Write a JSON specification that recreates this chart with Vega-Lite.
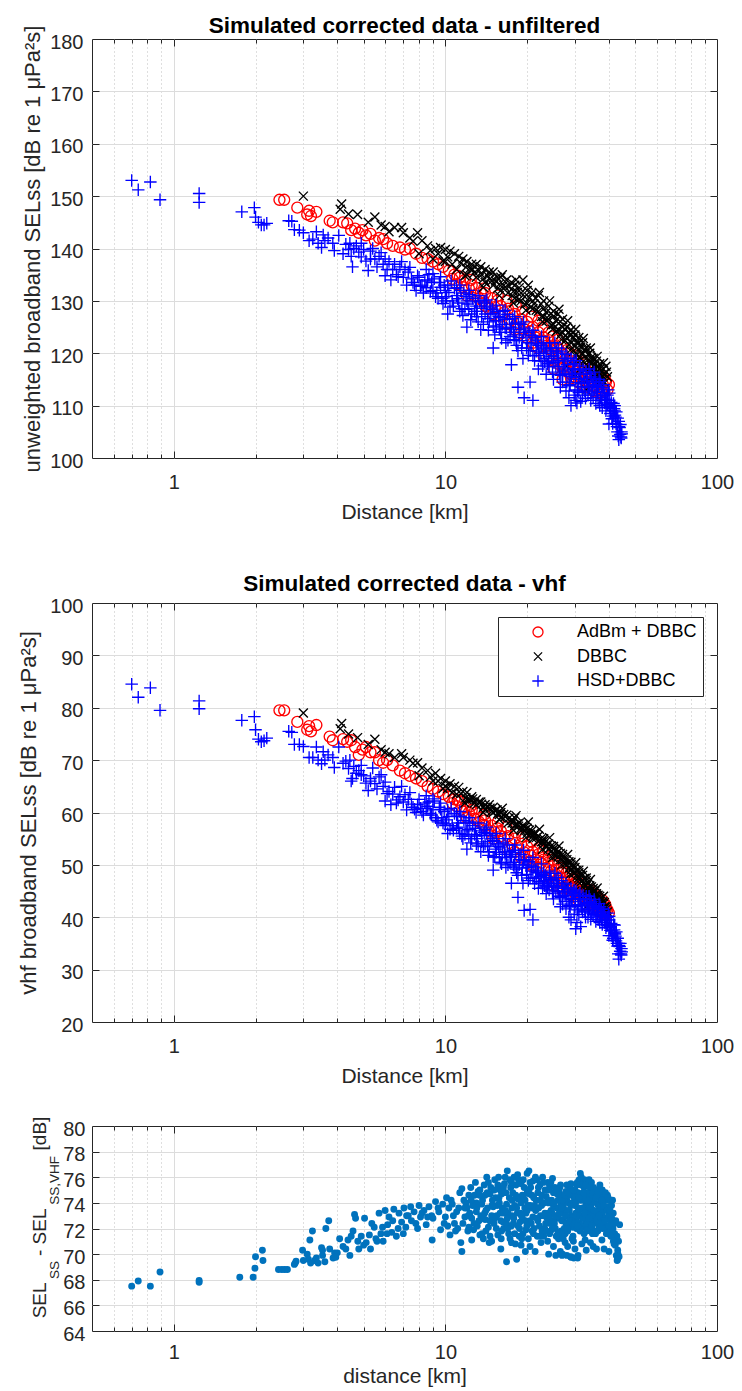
{
"padding":{"left":17,"top":14,"right":0,"bottom":0},
"config":{
 "font":"Liberation Sans",
 "view":{"stroke":"#262626","strokeWidth":1},
 "axis":{"labelFont":"Liberation Sans","titleFont":"Liberation Sans","labelFontSize":20,"labelColor":"#262626","titleColor":"#262626","titleFontWeight":"normal","tickColor":"#262626","tickWidth":1,"gridColor":"#DCDCDC","gridWidth":1,"domain":false,"labelOverlap":false,"labelFlush":false,"labelBound":false,"minExtent":0},
 "title":{"font":"Liberation Sans","fontSize":22.5,"fontWeight":"bold","color":"#000000","anchor":"middle","offset":4},
 "legend":{"labelFont":"Liberation Sans","labelFontSize":18,"labelColor":"#000000","fillColor":"#FFFFFF","strokeColor":"#262626","padding":6,"symbolSize":130,"symbolStrokeWidth":1.3,"symbolOffset":25,"labelOffset":30,"rowPadding":6.5,"cornerRadius":0,"labelLimit":400}
},
"datasets":{
"sel":[
{"s":"AdBm + DBBC","d":2.45,"u":149.3,"v":79.5},{"s":"AdBm + DBBC","d":2.55,"u":149.3,"v":79.5},{"s":"AdBm + DBBC","d":2.85,"u":147.8,"v":77.3},{"s":"AdBm + DBBC","d":3.1,"u":146.5,"v":75.8},{"s":"AdBm + DBBC","d":3.15,"u":147.2,"v":76.5},{"s":"AdBm + DBBC","d":3.2,"u":146.2,"v":75.5},{"s":"AdBm + DBBC","d":3.35,"u":147,"v":76.7},{"s":"AdBm + DBBC","d":3.75,"u":145.3,"v":74.5},{"s":"AdBm + DBBC","d":3.85,"u":145,"v":73.8},{"s":"AdBm + DBBC","d":4.2,"u":145,"v":74},{"s":"AdBm + DBBC","d":4.35,"u":144.8,"v":73.5},{"s":"AdBm + DBBC","d":4.5,"u":143.5,"v":73.8},{"s":"AdBm + DBBC","d":4.65,"u":143.8,"v":72.5},{"s":"AdBm + DBBC","d":4.8,"u":143,"v":71},{"s":"AdBm + DBBC","d":4.95,"u":143.5,"v":72},{"s":"AdBm + DBBC","d":5.1,"u":142.5,"v":72.5},{"s":"AdBm + DBBC","d":5.3,"u":142.8,"v":71.5},{"s":"AdBm + DBBC","d":5.5,"u":141.5,"v":71.5},{"s":"AdBm + DBBC","d":5.7,"u":142,"v":70},{"s":"AdBm + DBBC","d":5.9,"u":141.8,"v":69.5},{"s":"AdBm + DBBC","d":6.1,"u":141,"v":70},{"s":"AdBm + DBBC","d":6.4,"u":140.5,"v":69},{"s":"AdBm + DBBC","d":6.8,"u":140.2,"v":68},{"s":"AdBm + DBBC","d":7.1,"u":139.8,"v":67.5},{"s":"AdBm + DBBC","d":7.4,"u":140,"v":67},{"s":"AdBm + DBBC","d":7.8,"u":139,"v":66.5},{"s":"AdBm + DBBC","d":8.2,"u":138.2,"v":66},{"s":"AdBm + DBBC","d":8.6,"u":138,"v":65},{"s":"AdBm + DBBC","d":9,"u":137.5,"v":64.5},{"s":"AdBm + DBBC","d":9.4,"u":137,"v":64},{"s":"AdBm + DBBC","d":9.8,"u":136.5,"v":63.5},{"s":"AdBm + DBBC","d":10.3,"u":135.8,"v":63},{"s":"AdBm + DBBC","d":10.8,"u":135,"v":62.5},{"s":"AdBm + DBBC","d":11.3,"u":134.5,"v":62},{"s":"AdBm + DBBC","d":11.8,"u":134,"v":61},{"s":"AdBm + DBBC","d":12,"u":131,"v":59},{"s":"AdBm + DBBC","d":12.5,"u":133,"v":60.5},{"s":"AdBm + DBBC","d":13,"u":132.5,"v":60},{"s":"AdBm + DBBC","d":13.5,"u":131.5,"v":59},{"s":"AdBm + DBBC","d":14,"u":131.5,"v":58.5},{"s":"AdBm + DBBC","d":14,"u":129,"v":57.5},{"s":"AdBm + DBBC","d":14.8,"u":130.5,"v":57.5},{"s":"AdBm + DBBC","d":15,"u":127.5,"v":55},{"s":"AdBm + DBBC","d":15.5,"u":130,"v":57},{"s":"AdBm + DBBC","d":16,"u":129,"v":56.5},{"s":"AdBm + DBBC","d":16,"u":127,"v":55.5},{"s":"AdBm + DBBC","d":17,"u":128.5,"v":55.5},{"s":"AdBm + DBBC","d":18,"u":127.5,"v":55},{"s":"AdBm + DBBC","d":18,"u":124.5,"v":52.5},{"s":"AdBm + DBBC","d":19,"u":126.5,"v":54},{"s":"AdBm + DBBC","d":20,"u":126,"v":53.5},{"s":"AdBm + DBBC","d":20,"u":123,"v":51},{"s":"AdBm + DBBC","d":21,"u":125,"v":52.5},{"s":"AdBm + DBBC","d":21,"u":122,"v":50},{"s":"AdBm + DBBC","d":22,"u":124,"v":52},{"s":"AdBm + DBBC","d":22,"u":121,"v":49.5},{"s":"AdBm + DBBC","d":23,"u":123,"v":51},{"s":"AdBm + DBBC","d":24,"u":122.5,"v":50.5},{"s":"AdBm + DBBC","d":24,"u":119.5,"v":48},{"s":"AdBm + DBBC","d":25,"u":121.5,"v":50},{"s":"AdBm + DBBC","d":25,"u":117,"v":46},{"s":"AdBm + DBBC","d":26,"u":121,"v":49},{"s":"AdBm + DBBC","d":26,"u":118,"v":47},{"s":"AdBm + DBBC","d":27,"u":120,"v":48.5},{"s":"AdBm + DBBC","d":27,"u":115,"v":45},{"s":"AdBm + DBBC","d":28,"u":119,"v":47.5},{"s":"AdBm + DBBC","d":28,"u":116.5,"v":45.5},{"s":"AdBm + DBBC","d":29,"u":118.5,"v":47},{"s":"AdBm + DBBC","d":29,"u":116,"v":46},{"s":"AdBm + DBBC","d":30,"u":118,"v":46.5},{"s":"AdBm + DBBC","d":30,"u":115.5,"v":44.5},{"s":"AdBm + DBBC","d":31,"u":117,"v":46},{"s":"AdBm + DBBC","d":32,"u":116.5,"v":45},{"s":"AdBm + DBBC","d":32,"u":114,"v":43.5},{"s":"AdBm + DBBC","d":33,"u":116,"v":44.5},{"s":"AdBm + DBBC","d":34,"u":115.5,"v":44},{"s":"AdBm + DBBC","d":35,"u":115,"v":43.5},{"s":"AdBm + DBBC","d":36,"u":115.5,"v":43},{"s":"AdBm + DBBC","d":37,"u":114.5,"v":42.5},{"s":"AdBm + DBBC","d":38,"u":114,"v":42},{"s":"AdBm + DBBC","d":39,"u":114.5,"v":41.5},{"s":"AdBm + DBBC","d":40,"u":114,"v":40.8},
{"s":"AdBm + DBBC","d":10.6,"u":134.2,"v":61.8},{"s":"AdBm + DBBC","d":11,"u":133.2,"v":61.2},{"s":"AdBm + DBBC","d":11.6,"u":132.6,"v":60.2},{"s":"AdBm + DBBC","d":12.2,"u":132.4,"v":60},{"s":"AdBm + DBBC","d":12.8,"u":131,"v":58.8},{"s":"AdBm + DBBC","d":13.3,"u":130.4,"v":58.2},{"s":"AdBm + DBBC","d":13.8,"u":130,"v":57.6},{"s":"AdBm + DBBC","d":14.4,"u":128.6,"v":56.6},{"s":"AdBm + DBBC","d":15.2,"u":128.8,"v":56.2},{"s":"AdBm + DBBC","d":16.5,"u":127.8,"v":55},{"s":"AdBm + DBBC","d":17.5,"u":126.4,"v":54},{"s":"AdBm + DBBC","d":18.5,"u":125.8,"v":53.2},{"s":"AdBm + DBBC","d":19.5,"u":124.6,"v":52.4},{"s":"AdBm + DBBC","d":20.5,"u":124.2,"v":51.8},{"s":"AdBm + DBBC","d":21.5,"u":123,"v":51},{"s":"AdBm + DBBC","d":22.5,"u":122.4,"v":50.4},{"s":"AdBm + DBBC","d":23.5,"u":121.4,"v":49.4},{"s":"AdBm + DBBC","d":24.5,"u":120.6,"v":48.8},{"s":"AdBm + DBBC","d":25.5,"u":119.8,"v":48.2},{"s":"AdBm + DBBC","d":26.5,"u":119,"v":47.6},{"s":"AdBm + DBBC","d":27.5,"u":117.8,"v":46.8},{"s":"AdBm + DBBC","d":28.5,"u":117.4,"v":46.2},{"s":"AdBm + DBBC","d":29.5,"u":116.8,"v":45.6},{"s":"AdBm + DBBC","d":30.5,"u":116,"v":45},{"s":"AdBm + DBBC","d":31.5,"u":115.4,"v":44.4},{"s":"AdBm + DBBC","d":32.5,"u":114.8,"v":43.8},{"s":"AdBm + DBBC","d":33.5,"u":114.4,"v":43.2},{"s":"AdBm + DBBC","d":34.5,"u":113.8,"v":42.6},{"s":"AdBm + DBBC","d":35.5,"u":113.6,"v":42.2},{"s":"AdBm + DBBC","d":36.5,"u":113.2,"v":41.8},{"s":"AdBm + DBBC","d":37.5,"u":112.8,"v":41.2},{"s":"AdBm + DBBC","d":38.5,"u":112.6,"v":40.8},{"s":"AdBm + DBBC","d":22,"u":126.2,"v":53.2},{"s":"AdBm + DBBC","d":24,"u":124,"v":51.6},{"s":"AdBm + DBBC","d":26,"u":122.6,"v":50.4},{"s":"AdBm + DBBC","d":28,"u":120.6,"v":48.6},{"s":"AdBm + DBBC","d":30,"u":119.6,"v":47.4},{"s":"AdBm + DBBC","d":32,"u":118.2,"v":46.2},{"s":"AdBm + DBBC","d":34,"u":117,"v":45.2},{"s":"AdBm + DBBC","d":36,"u":116.4,"v":44.2},{"s":"AdBm + DBBC","d":38,"u":115.6,"v":43.2},{"s":"AdBm + DBBC","d":39.5,"u":113,"v":41.4},
{"s":"AdBm + DBBC","d":11.1,"u":134.8,"v":62.4},{"s":"AdBm + DBBC","d":12.4,"u":134,"v":61.2},{"s":"AdBm + DBBC","d":13.9,"u":132.4,"v":59.6},{"s":"AdBm + DBBC","d":15.6,"u":131,"v":58.2},{"s":"AdBm + DBBC","d":16.8,"u":130,"v":57.2},{"s":"AdBm + DBBC","d":18.2,"u":129,"v":56.2},{"s":"AdBm + DBBC","d":19.2,"u":128,"v":55.4},{"s":"AdBm + DBBC","d":20.8,"u":127,"v":54.4},{"s":"AdBm + DBBC","d":22.8,"u":125,"v":52.6},{"s":"AdBm + DBBC","d":24.8,"u":123.2,"v":51},{"s":"AdBm + DBBC","d":26.8,"u":121.6,"v":49.4},{"s":"AdBm + DBBC","d":28.8,"u":120,"v":48},{"s":"AdBm + DBBC","d":30.8,"u":118.4,"v":46.6},{"s":"AdBm + DBBC","d":32.8,"u":117,"v":45.4},{"s":"AdBm + DBBC","d":34.8,"u":116,"v":44.4},{"s":"AdBm + DBBC","d":36.8,"u":115,"v":43.4},{"s":"AdBm + DBBC","d":38.8,"u":114.8,"v":42.4},{"s":"AdBm + DBBC","d":17,"u":125.6,"v":53},{"s":"AdBm + DBBC","d":19,"u":123.8,"v":51.4},{"s":"AdBm + DBBC","d":21,"u":121.4,"v":49.6},{"s":"AdBm + DBBC","d":23,"u":119.4,"v":47.8},{"s":"AdBm + DBBC","d":25,"u":118.6,"v":46.6},{"s":"AdBm + DBBC","d":27,"u":117.2,"v":45.6},{"s":"AdBm + DBBC","d":29,"u":115.2,"v":44.2},{"s":"AdBm + DBBC","d":31,"u":114.4,"v":43.2},{"s":"AdBm + DBBC","d":33,"u":113.6,"v":42.4},{"s":"AdBm + DBBC","d":35,"u":112.8,"v":41.6},{"s":"AdBm + DBBC","d":37,"u":112.4,"v":41},
{"s":"DBBC","d":3,"u":150,"v":79},{"s":"DBBC","d":4.1,"u":147.5,"v":76},{"s":"DBBC","d":4.15,"u":148.5,"v":77},{"s":"DBBC","d":4.75,"u":146.5,"v":74.3},{"s":"DBBC","d":5.5,"u":146,"v":74},{"s":"DBBC","d":5.8,"u":144.5,"v":72},{"s":"DBBC","d":6,"u":144.2,"v":71.5},{"s":"DBBC","d":6.5,"u":144,"v":70.5},{"s":"DBBC","d":6.9,"u":144,"v":71.2},{"s":"DBBC","d":7,"u":143,"v":70.5},{"s":"DBBC","d":7.4,"u":142,"v":70},{"s":"DBBC","d":7.9,"u":143,"v":69.5},{"s":"DBBC","d":8,"u":139,"v":67},{"s":"DBBC","d":8.2,"u":141.5,"v":68.5},{"s":"DBBC","d":8.6,"u":140.5,"v":68},{"s":"DBBC","d":9,"u":138,"v":66},{"s":"DBBC","d":9.2,"u":140,"v":67.5},{"s":"DBBC","d":9.6,"u":140.2,"v":66.5},{"s":"DBBC","d":10,"u":139.8,"v":66},{"s":"DBBC","d":10,"u":137.5,"v":65},{"s":"DBBC","d":10.4,"u":139.5,"v":65.5},{"s":"DBBC","d":10.8,"u":139,"v":65},{"s":"DBBC","d":11,"u":136,"v":63.5},{"s":"DBBC","d":11.2,"u":138.5,"v":64.8},{"s":"DBBC","d":11.6,"u":138,"v":64},{"s":"DBBC","d":12,"u":137.5,"v":63.8},{"s":"DBBC","d":12,"u":135,"v":62.5},{"s":"DBBC","d":12.5,"u":137,"v":63},{"s":"DBBC","d":13,"u":137,"v":62.5},{"s":"DBBC","d":13,"u":134.5,"v":61.5},{"s":"DBBC","d":13.5,"u":136.5,"v":62},{"s":"DBBC","d":14,"u":136,"v":61.5},{"s":"DBBC","d":14,"u":133.5,"v":60.5},{"s":"DBBC","d":14.5,"u":135.5,"v":61.5},{"s":"DBBC","d":15,"u":135.5,"v":61},{"s":"DBBC","d":15,"u":133,"v":60},{"s":"DBBC","d":15.5,"u":134.5,"v":60.5},{"s":"DBBC","d":16,"u":134.5,"v":60},{"s":"DBBC","d":16,"u":132,"v":59},{"s":"DBBC","d":16.8,"u":134,"v":59.5},{"s":"DBBC","d":17,"u":131.5,"v":58},{"s":"DBBC","d":17.5,"u":133.5,"v":58.5},{"s":"DBBC","d":18,"u":133,"v":59},{"s":"DBBC","d":18,"u":130.5,"v":57.5},{"s":"DBBC","d":18.7,"u":132.5,"v":58},{"s":"DBBC","d":19,"u":130,"v":56.5},{"s":"DBBC","d":19,"u":131.5,"v":57},{"s":"DBBC","d":19.3,"u":134,"v":57.5},{"s":"DBBC","d":20,"u":132,"v":57},{"s":"DBBC","d":20,"u":129.5,"v":56},{"s":"DBBC","d":20.8,"u":131.5,"v":56.5},{"s":"DBBC","d":21,"u":128.5,"v":55},{"s":"DBBC","d":21,"u":130,"v":55.5},{"s":"DBBC","d":21.5,"u":130.5,"v":56},{"s":"DBBC","d":22,"u":131,"v":55.5},{"s":"DBBC","d":22,"u":128,"v":54.5},{"s":"DBBC","d":23,"u":130,"v":55},{"s":"DBBC","d":23,"u":127,"v":54},{"s":"DBBC","d":23,"u":128.5,"v":54.5},{"s":"DBBC","d":24,"u":129,"v":54},{"s":"DBBC","d":24,"u":126.5,"v":53},{"s":"DBBC","d":25,"u":128,"v":53.5},{"s":"DBBC","d":25,"u":125.5,"v":52},{"s":"DBBC","d":25,"u":127,"v":53},{"s":"DBBC","d":26,"u":127.5,"v":52.5},{"s":"DBBC","d":26,"u":124.5,"v":51.5},{"s":"DBBC","d":27,"u":126.5,"v":52},{"s":"DBBC","d":27,"u":124,"v":51},{"s":"DBBC","d":27,"u":125,"v":51.5},{"s":"DBBC","d":28,"u":125,"v":51},{"s":"DBBC","d":28,"u":123,"v":50},{"s":"DBBC","d":28,"u":117.5,"v":46},{"s":"DBBC","d":29,"u":124.5,"v":50},{"s":"DBBC","d":29,"u":122,"v":49},{"s":"DBBC","d":29,"u":123.5,"v":50.5},{"s":"DBBC","d":30,"u":123.5,"v":49.5},{"s":"DBBC","d":30,"u":121.5,"v":48.5},{"s":"DBBC","d":30,"u":116,"v":45},{"s":"DBBC","d":31,"u":123,"v":48.5},{"s":"DBBC","d":31,"u":120.5,"v":47.5},{"s":"DBBC","d":31,"u":122,"v":49},{"s":"DBBC","d":32,"u":122,"v":48},{"s":"DBBC","d":32,"u":120,"v":47},{"s":"DBBC","d":32,"u":115,"v":44},{"s":"DBBC","d":33,"u":121,"v":47},{"s":"DBBC","d":33,"u":119,"v":46},{"s":"DBBC","d":33,"u":113,"v":42},{"s":"DBBC","d":33,"u":120.5,"v":47.5},{"s":"DBBC","d":34,"u":120,"v":46},{"s":"DBBC","d":34,"u":118.5,"v":45},{"s":"DBBC","d":35,"u":119,"v":45.5},{"s":"DBBC","d":35,"u":117.5,"v":44.5},{"s":"DBBC","d":35,"u":118.5,"v":45},{"s":"DBBC","d":36,"u":118.5,"v":44.5},{"s":"DBBC","d":36,"u":116.5,"v":43.5},{"s":"DBBC","d":37,"u":118,"v":44},{"s":"DBBC","d":37,"u":116,"v":43},{"s":"DBBC","d":37,"u":117,"v":43.5},{"s":"DBBC","d":38,"u":117,"v":43},{"s":"DBBC","d":38,"u":115.5,"v":42.5},{"s":"DBBC","d":39,"u":117.5,"v":42},{"s":"DBBC","d":39.5,"u":115.5,"v":41},
{"s":"DBBC","d":10.2,"u":138.4,"v":64.6},{"s":"DBBC","d":10.6,"u":137,"v":63.8},{"s":"DBBC","d":11.4,"u":137.2,"v":63.6},{"s":"DBBC","d":11.9,"u":136.4,"v":62.8},{"s":"DBBC","d":12.3,"u":136.2,"v":62.4},{"s":"DBBC","d":12.8,"u":135.4,"v":61.8},{"s":"DBBC","d":13.3,"u":135.8,"v":62},{"s":"DBBC","d":13.8,"u":134.2,"v":61},{"s":"DBBC","d":14.3,"u":134.8,"v":61},{"s":"DBBC","d":14.8,"u":133.8,"v":60.2},{"s":"DBBC","d":15.3,"u":133.8,"v":60.4},{"s":"DBBC","d":15.8,"u":133.2,"v":59.6},{"s":"DBBC","d":16.4,"u":133,"v":59.6},{"s":"DBBC","d":17.2,"u":132.8,"v":59},{"s":"DBBC","d":17.8,"u":131.8,"v":58.4},{"s":"DBBC","d":18.4,"u":131.6,"v":57.8},{"s":"DBBC","d":19.6,"u":130.8,"v":57.2},{"s":"DBBC","d":20.4,"u":130.6,"v":56.6},{"s":"DBBC","d":21.2,"u":129.4,"v":56},{"s":"DBBC","d":22.5,"u":129.4,"v":55},{"s":"DBBC","d":23.5,"u":127.8,"v":53.8},{"s":"DBBC","d":24.5,"u":127.6,"v":53.6},{"s":"DBBC","d":25.5,"u":126.2,"v":52.8},{"s":"DBBC","d":26.5,"u":126,"v":52.2},{"s":"DBBC","d":27.5,"u":124.6,"v":51},{"s":"DBBC","d":28.5,"u":124,"v":50.6},{"s":"DBBC","d":29.5,"u":122.8,"v":49.6},{"s":"DBBC","d":30.5,"u":122.2,"v":49},{"s":"DBBC","d":31.5,"u":121.2,"v":48},{"s":"DBBC","d":32.5,"u":120.6,"v":47.4},{"s":"DBBC","d":33.5,"u":119.8,"v":46.6},{"s":"DBBC","d":34.5,"u":119.2,"v":45.8},{"s":"DBBC","d":35.5,"u":117.8,"v":45},{"s":"DBBC","d":36.5,"u":117.4,"v":44.2},{"s":"DBBC","d":37.5,"u":116.6,"v":43.6},{"s":"DBBC","d":38.5,"u":116.2,"v":42.8},{"s":"DBBC","d":39.2,"u":116.4,"v":41.6},{"s":"DBBC","d":22.8,"u":126,"v":53},{"s":"DBBC","d":24.8,"u":124.6,"v":51.4},{"s":"DBBC","d":26.8,"u":122.6,"v":50},{"s":"DBBC","d":28.8,"u":120.6,"v":48.2},{"s":"DBBC","d":30.8,"u":118.8,"v":46.8},{"s":"DBBC","d":32.8,"u":117,"v":45.2},{"s":"DBBC","d":34.8,"u":115.6,"v":44},{"s":"DBBC","d":36.8,"u":114.6,"v":42.8},{"s":"DBBC","d":19.8,"u":128.2,"v":55.2},{"s":"DBBC","d":17.8,"u":129.6,"v":56.6},{"s":"DBBC","d":15.8,"u":131,"v":58.6},{"s":"DBBC","d":13.8,"u":132.6,"v":60},{"s":"DBBC","d":11.8,"u":134.8,"v":61.8},{"s":"DBBC","d":9.8,"u":137.6,"v":64.6},{"s":"DBBC","d":9.4,"u":139,"v":66},{"s":"DBBC","d":8.8,"u":139.6,"v":66.8},{"s":"DBBC","d":7.6,"u":141.4,"v":69.4},{"s":"DBBC","d":6.2,"u":143.2,"v":71.2},{"s":"DBBC","d":5.2,"u":145,"v":73},{"s":"DBBC","d":4.4,"u":146.6,"v":75},
{"s":"DBBC","d":12.6,"u":136,"v":62.6},{"s":"DBBC","d":13.6,"u":135,"v":61.6},{"s":"DBBC","d":14.6,"u":134.2,"v":60.8},{"s":"DBBC","d":15.6,"u":132.4,"v":59.8},{"s":"DBBC","d":16.6,"u":132.6,"v":59.2},{"s":"DBBC","d":17.6,"u":131,"v":58},{"s":"DBBC","d":18.6,"u":130.2,"v":57.4},{"s":"DBBC","d":19.6,"u":129.4,"v":56.6},{"s":"DBBC","d":20.6,"u":128.8,"v":55.8},{"s":"DBBC","d":21.6,"u":128.2,"v":55.2},{"s":"DBBC","d":22.6,"u":127,"v":54.4},{"s":"DBBC","d":23.6,"u":126.2,"v":53.4},{"s":"DBBC","d":24.6,"u":125.4,"v":52.6},{"s":"DBBC","d":25.6,"u":124.2,"v":51.8},{"s":"DBBC","d":26.6,"u":123.6,"v":51},{"s":"DBBC","d":27.6,"u":122.4,"v":50.2},{"s":"DBBC","d":28.6,"u":121.6,"v":49.4},{"s":"DBBC","d":29.6,"u":120.4,"v":48.4},{"s":"DBBC","d":30.6,"u":119.8,"v":47.8},{"s":"DBBC","d":31.6,"u":118.8,"v":46.8},{"s":"DBBC","d":32.6,"u":118.2,"v":46.2},{"s":"DBBC","d":33.6,"u":117.4,"v":45.4},{"s":"DBBC","d":34.6,"u":116.8,"v":44.6},{"s":"DBBC","d":35.6,"u":116,"v":44},{"s":"DBBC","d":36.6,"u":115.4,"v":43.2},{"s":"DBBC","d":37.6,"u":114.8,"v":42.6},{"s":"DBBC","d":38.6,"u":114.4,"v":42},{"s":"DBBC","d":16.2,"u":135,"v":60.8},{"s":"DBBC","d":18.2,"u":134,"v":59.4},{"s":"DBBC","d":20.2,"u":133,"v":58.2},{"s":"DBBC","d":22.2,"u":131.6,"v":56.8},{"s":"DBBC","d":24.2,"u":130,"v":55.2},{"s":"DBBC","d":26.2,"u":128.4,"v":53.6},{"s":"DBBC","d":28.2,"u":126.2,"v":52},{"s":"DBBC","d":30.2,"u":124.6,"v":50.4},{"s":"DBBC","d":32.2,"u":122.8,"v":48.8},{"s":"DBBC","d":34.2,"u":121,"v":47.2},{"s":"DBBC","d":36.2,"u":119.4,"v":45.6},{"s":"DBBC","d":38.2,"u":118.2,"v":44},
{"s":"HSD+DBBC","d":0.7,"u":153,"v":84.5},{"s":"HSD+DBBC","d":0.74,"u":151.2,"v":82},{"s":"HSD+DBBC","d":0.82,"u":152.7,"v":83.8},{"s":"HSD+DBBC","d":0.89,"u":149.3,"v":79.5},{"s":"HSD+DBBC","d":1.24,"u":150.5,"v":81.3},{"s":"HSD+DBBC","d":1.24,"u":148.8,"v":79.8},{"s":"HSD+DBBC","d":1.78,"u":147,"v":77.6},{"s":"HSD+DBBC","d":1.98,"u":147.8,"v":78.3},{"s":"HSD+DBBC","d":2,"u":146,"v":75.8},{"s":"HSD+DBBC","d":2.05,"u":145,"v":74},{"s":"HSD+DBBC","d":2.1,"u":144.5,"v":73.5},{"s":"HSD+DBBC","d":2.15,"u":144.5,"v":73.7},{"s":"HSD+DBBC","d":2.65,"u":145.3,"v":75.5},{"s":"HSD+DBBC","d":2.72,"u":145.2,"v":75.3},{"s":"HSD+DBBC","d":2.9,"u":143.5,"v":73},{"s":"HSD+DBBC","d":3.15,"u":141.5,"v":70.5},{"s":"HSD+DBBC","d":3.25,"u":141.8,"v":70.5},{"s":"HSD+DBBC","d":3.35,"u":143.2,"v":72.5},{"s":"HSD+DBBC","d":3.5,"u":140.2,"v":69.3},{"s":"HSD+DBBC","d":3.6,"u":141.5,"v":70},{"s":"HSD+DBBC","d":3.7,"u":142,"v":71},{"s":"HSD+DBBC","d":3.85,"u":141,"v":70.5},{"s":"HSD+DBBC","d":4.05,"u":142.5,"v":72.5},{"s":"HSD+DBBC","d":4.3,"u":140.8,"v":69.8},{"s":"HSD+DBBC","d":4.45,"u":141,"v":70},{"s":"HSD+DBBC","d":4.5,"u":138.5,"v":66},{"s":"HSD+DBBC","d":4.55,"u":136.5,"v":66.5},{"s":"HSD+DBBC","d":4.7,"u":140.5,"v":67.5},{"s":"HSD+DBBC","d":4.8,"u":139.3,"v":68},{"s":"HSD+DBBC","d":4.9,"u":141,"v":69},{"s":"HSD+DBBC","d":5,"u":139.8,"v":67},{"s":"HSD+DBBC","d":5.2,"u":135.8,"v":64.2},{"s":"HSD+DBBC","d":5.3,"u":139.5,"v":66.5},{"s":"HSD+DBBC","d":5.4,"u":140,"v":68.5},{"s":"HSD+DBBC","d":5.5,"u":138,"v":65.5},{"s":"HSD+DBBC","d":5.6,"u":136.5,"v":64.5},{"s":"HSD+DBBC","d":5.7,"u":138.5,"v":66.8},{"s":"HSD+DBBC","d":5.9,"u":137,"v":65},{"s":"HSD+DBBC","d":6,"u":134.8,"v":62.2},{"s":"HSD+DBBC","d":6.2,"u":137.5,"v":64},{"s":"HSD+DBBC","d":6.3,"u":134,"v":61.5},{"s":"HSD+DBBC","d":6.4,"u":136,"v":63.5},{"s":"HSD+DBBC","d":6.6,"u":135,"v":61.8},{"s":"HSD+DBBC","d":6.8,"u":136.5,"v":63},{"s":"HSD+DBBC","d":6.9,"u":137.5,"v":65},{"s":"HSD+DBBC","d":7,"u":134.5,"v":62},{"s":"HSD+DBBC","d":7.2,"u":133,"v":60.5},{"s":"HSD+DBBC","d":7.3,"u":135.5,"v":62.5},{"s":"HSD+DBBC","d":7.6,"u":133.5,"v":61},{"s":"HSD+DBBC","d":7.8,"u":132,"v":60},{"s":"HSD+DBBC","d":7.9,"u":134.8,"v":61.5},{"s":"HSD+DBBC","d":8,"u":134.5,"v":62.5},{"s":"HSD+DBBC","d":8.2,"u":133,"v":60.2},{"s":"HSD+DBBC","d":8.3,"u":131.5,"v":59.5},{"s":"HSD+DBBC","d":8.5,"u":132.5,"v":60.8},{"s":"HSD+DBBC","d":8.7,"u":135,"v":62},{"s":"HSD+DBBC","d":8.9,"u":133.5,"v":59.5},{"s":"HSD+DBBC","d":9,"u":132,"v":60.5},{"s":"HSD+DBBC","d":9.3,"u":131.5,"v":58.5},{"s":"HSD+DBBC","d":9.5,"u":133.5,"v":61},{"s":"HSD+DBBC","d":9.7,"u":130.5,"v":59},{"s":"HSD+DBBC","d":9.8,"u":129.5,"v":58},{"s":"HSD+DBBC","d":10,"u":132,"v":57.5},{"s":"HSD+DBBC","d":10.2,"u":127.5,"v":56},{"s":"HSD+DBBC","d":10.2,"u":133,"v":60.5},{"s":"HSD+DBBC","d":10.6,"u":130,"v":57.5},{"s":"HSD+DBBC","d":11,"u":131,"v":57},{"s":"HSD+DBBC","d":11,"u":132.5,"v":59.5},{"s":"HSD+DBBC","d":11.3,"u":128,"v":56},{"s":"HSD+DBBC","d":11.5,"u":128.5,"v":55.5},{"s":"HSD+DBBC","d":11.7,"u":131.5,"v":58.5},{"s":"HSD+DBBC","d":12,"u":130,"v":56.5},{"s":"HSD+DBBC","d":12,"u":125,"v":53},{"s":"HSD+DBBC","d":12.2,"u":128.5,"v":55.5},{"s":"HSD+DBBC","d":12.5,"u":127.5,"v":55},{"s":"HSD+DBBC","d":12.6,"u":130.5,"v":57.5},{"s":"HSD+DBBC","d":13,"u":129,"v":55.5},{"s":"HSD+DBBC","d":13,"u":127,"v":54},{"s":"HSD+DBBC","d":13.4,"u":130,"v":56.5},{"s":"HSD+DBBC","d":13.5,"u":124.5,"v":52.5},{"s":"HSD+DBBC","d":13.8,"u":125.5,"v":53.5},{"s":"HSD+DBBC","d":14,"u":127.5,"v":54},{"s":"HSD+DBBC","d":14.2,"u":129,"v":56},{"s":"HSD+DBBC","d":14.5,"u":126,"v":52.5},{"s":"HSD+DBBC","d":14.7,"u":127.5,"v":54.5},{"s":"HSD+DBBC","d":15,"u":125,"v":51.5},{"s":"HSD+DBBC","d":15,"u":121,"v":49},{"s":"HSD+DBBC","d":15.2,"u":123.5,"v":51.5},{"s":"HSD+DBBC","d":15.5,"u":128,"v":54},{"s":"HSD+DBBC","d":15.7,"u":127,"v":53.5},{"s":"HSD+DBBC","d":16,"u":124,"v":50.5},{"s":"HSD+DBBC","d":16.2,"u":125.5,"v":52},{"s":"HSD+DBBC","d":16.5,"u":126.5,"v":52.5},{"s":"HSD+DBBC","d":16.7,"u":122,"v":49.5},{"s":"HSD+DBBC","d":17,"u":122.5,"v":50},{"s":"HSD+DBBC","d":17.2,"u":126.5,"v":52.5},{"s":"HSD+DBBC","d":17.5,"u":117.8,"v":46.5},{"s":"HSD+DBBC","d":17.5,"u":125,"v":51.5},{"s":"HSD+DBBC","d":17.8,"u":124,"v":50},{"s":"HSD+DBBC","d":18,"u":123.5,"v":50.5},{"s":"HSD+DBBC","d":18.3,"u":121.5,"v":48.5},{"s":"HSD+DBBC","d":18.5,"u":120.5,"v":48},{"s":"HSD+DBBC","d":18.5,"u":113.5,"v":43.8},{"s":"HSD+DBBC","d":18.8,"u":124.5,"v":51},{"s":"HSD+DBBC","d":19,"u":125.5,"v":52},{"s":"HSD+DBBC","d":19.3,"u":119,"v":46.5},{"s":"HSD+DBBC","d":19.5,"u":111.5,"v":41.3},{"s":"HSD+DBBC","d":19.8,"u":123.5,"v":50},{"s":"HSD+DBBC","d":20,"u":122,"v":49.5},{"s":"HSD+DBBC","d":20.5,"u":114.5,"v":41.5},{"s":"HSD+DBBC","d":20.5,"u":120.5,"v":47.5},{"s":"HSD+DBBC","d":21,"u":111,"v":39.5},{"s":"HSD+DBBC","d":21,"u":119.5,"v":47.5},{"s":"HSD+DBBC","d":21.5,"u":122.5,"v":49},{"s":"HSD+DBBC","d":22,"u":121.5,"v":48.5},{"s":"HSD+DBBC","d":22,"u":117,"v":45.5},{"s":"HSD+DBBC","d":22.5,"u":118.5,"v":46.5},{"s":"HSD+DBBC","d":23,"u":120,"v":47},{"s":"HSD+DBBC","d":23,"u":122,"v":48.5},{"s":"HSD+DBBC","d":23.5,"u":116,"v":44.5},{"s":"HSD+DBBC","d":23.5,"u":119,"v":46},{"s":"HSD+DBBC","d":24,"u":118.5,"v":46.5},{"s":"HSD+DBBC","d":24.5,"u":121,"v":47.5},{"s":"HSD+DBBC","d":25,"u":119.5,"v":46},{"s":"HSD+DBBC","d":25,"u":115,"v":43.5},{"s":"HSD+DBBC","d":25.5,"u":117.5,"v":45},{"s":"HSD+DBBC","d":26,"u":117.5,"v":45},{"s":"HSD+DBBC","d":26,"u":120,"v":46.5},{"s":"HSD+DBBC","d":26.5,"u":113.5,"v":42},{"s":"HSD+DBBC","d":27,"u":116,"v":44},{"s":"HSD+DBBC","d":27,"u":114.5,"v":42.5},{"s":"HSD+DBBC","d":27.5,"u":118.5,"v":45.5},{"s":"HSD+DBBC","d":28,"u":114.5,"v":43},{"s":"HSD+DBBC","d":28.5,"u":111.5,"v":40},{"s":"HSD+DBBC","d":28.5,"u":116,"v":43.5},{"s":"HSD+DBBC","d":29,"u":110,"v":39.5},{"s":"HSD+DBBC","d":29,"u":119,"v":45.5},{"s":"HSD+DBBC","d":29.5,"u":117,"v":44.5},{"s":"HSD+DBBC","d":30,"u":113,"v":42},{"s":"HSD+DBBC","d":30,"u":117,"v":44.5},{"s":"HSD+DBBC","d":30.2,"u":111,"v":37.8},{"s":"HSD+DBBC","d":30.5,"u":110.5,"v":39},{"s":"HSD+DBBC","d":31,"u":115,"v":43.5},{"s":"HSD+DBBC","d":31,"u":112.5,"v":40.5},{"s":"HSD+DBBC","d":31.5,"u":116,"v":43.5},{"s":"HSD+DBBC","d":31.5,"u":110.8,"v":38.2},{"s":"HSD+DBBC","d":32,"u":112,"v":41},{"s":"HSD+DBBC","d":32.5,"u":114.5,"v":42.5},{"s":"HSD+DBBC","d":33,"u":116.5,"v":44},{"s":"HSD+DBBC","d":33.5,"u":112,"v":40},{"s":"HSD+DBBC","d":34,"u":113.5,"v":41.5},{"s":"HSD+DBBC","d":34.5,"u":115.5,"v":43},{"s":"HSD+DBBC","d":35,"u":111.5,"v":40.5},{"s":"HSD+DBBC","d":35.5,"u":113,"v":41},{"s":"HSD+DBBC","d":36,"u":114,"v":42},{"s":"HSD+DBBC","d":36.5,"u":111,"v":39.5},{"s":"HSD+DBBC","d":37,"u":110,"v":39},{"s":"HSD+DBBC","d":37.5,"u":113.5,"v":41.5},{"s":"HSD+DBBC","d":38,"u":112.5,"v":40.5},{"s":"HSD+DBBC","d":38.5,"u":110.5,"v":39},{"s":"HSD+DBBC","d":39,"u":109,"v":38},{"s":"HSD+DBBC","d":39.5,"u":112,"v":40},{"s":"HSD+DBBC","d":40,"u":111,"v":39.5},{"s":"HSD+DBBC","d":40,"u":106.5,"v":36.5},{"s":"HSD+DBBC","d":40.5,"u":108.5,"v":37.5},{"s":"HSD+DBBC","d":41,"u":107.5,"v":36.5},{"s":"HSD+DBBC","d":41.5,"u":108,"v":36},{"s":"HSD+DBBC","d":42,"u":109,"v":37},{"s":"HSD+DBBC","d":42,"u":110,"v":38.5},{"s":"HSD+DBBC","d":42.5,"u":106.5,"v":35.5},{"s":"HSD+DBBC","d":43,"u":105,"v":34.5},{"s":"HSD+DBBC","d":43.5,"u":107,"v":35},{"s":"HSD+DBBC","d":43.5,"u":103.5,"v":32},{"s":"HSD+DBBC","d":44,"u":104.5,"v":33.5},{"s":"HSD+DBBC","d":44.5,"u":105,"v":34},
{"s":"HSD+DBBC","d":8.4,"u":134,"v":61.8},{"s":"HSD+DBBC","d":8.8,"u":131.8,"v":59.8},{"s":"HSD+DBBC","d":9.1,"u":134.2,"v":62.2},{"s":"HSD+DBBC","d":9.4,"u":130.5,"v":58.2},{"s":"HSD+DBBC","d":9.9,"u":133,"v":60.2},{"s":"HSD+DBBC","d":10.1,"u":130.8,"v":58.6},{"s":"HSD+DBBC","d":10.4,"u":128.8,"v":56.8},{"s":"HSD+DBBC","d":10.8,"u":132.4,"v":59.8},{"s":"HSD+DBBC","d":11.2,"u":129.6,"v":57.2},{"s":"HSD+DBBC","d":11.6,"u":127.2,"v":55},{"s":"HSD+DBBC","d":11.9,"u":130.8,"v":58},{"s":"HSD+DBBC","d":12.3,"u":131.2,"v":58.2},{"s":"HSD+DBBC","d":12.8,"u":128,"v":55.8},{"s":"HSD+DBBC","d":13.2,"u":126,"v":53.6},{"s":"HSD+DBBC","d":13.6,"u":128.6,"v":55.6},{"s":"HSD+DBBC","d":14,"u":130,"v":56.8},{"s":"HSD+DBBC","d":14.4,"u":124.4,"v":51.8},{"s":"HSD+DBBC","d":14.9,"u":128.4,"v":55},{"s":"HSD+DBBC","d":15.3,"u":126.2,"v":53},{"s":"HSD+DBBC","d":15.8,"u":124.6,"v":51.4},{"s":"HSD+DBBC","d":16.3,"u":128,"v":54.2},{"s":"HSD+DBBC","d":16.8,"u":124.8,"v":51.4},{"s":"HSD+DBBC","d":17.3,"u":123.2,"v":50.4},{"s":"HSD+DBBC","d":17.7,"u":126.6,"v":52.8},{"s":"HSD+DBBC","d":18.2,"u":122.4,"v":49.2},{"s":"HSD+DBBC","d":18.6,"u":125.6,"v":52},{"s":"HSD+DBBC","d":19.1,"u":121,"v":48},{"s":"HSD+DBBC","d":19.6,"u":124.8,"v":51},{"s":"HSD+DBBC","d":20.2,"u":119.6,"v":47},{"s":"HSD+DBBC","d":20.8,"u":123.4,"v":49.8},{"s":"HSD+DBBC","d":21.3,"u":118.6,"v":46.4},{"s":"HSD+DBBC","d":21.8,"u":121.8,"v":48.6},{"s":"HSD+DBBC","d":22.3,"u":120,"v":47.8},{"s":"HSD+DBBC","d":22.8,"u":117.6,"v":45.6},{"s":"HSD+DBBC","d":23.3,"u":121,"v":48},{"s":"HSD+DBBC","d":23.8,"u":118,"v":45.8},{"s":"HSD+DBBC","d":24.3,"u":120.4,"v":47.2},{"s":"HSD+DBBC","d":24.8,"u":116.4,"v":44.6},{"s":"HSD+DBBC","d":25.3,"u":122,"v":48.4},{"s":"HSD+DBBC","d":25.8,"u":119,"v":46},{"s":"HSD+DBBC","d":26.3,"u":116,"v":44},{"s":"HSD+DBBC","d":26.8,"u":120.4,"v":47},{"s":"HSD+DBBC","d":27.3,"u":117.2,"v":44.8},{"s":"HSD+DBBC","d":27.8,"u":112.8,"v":41.6},{"s":"HSD+DBBC","d":28.3,"u":119,"v":45.6},{"s":"HSD+DBBC","d":28.8,"u":114,"v":42},{"s":"HSD+DBBC","d":29.3,"u":116.2,"v":43.6},{"s":"HSD+DBBC","d":29.8,"u":112,"v":40.6},{"s":"HSD+DBBC","d":30.3,"u":118.6,"v":45},{"s":"HSD+DBBC","d":30.8,"u":114.4,"v":42.4},{"s":"HSD+DBBC","d":31.3,"u":117.6,"v":44.6},{"s":"HSD+DBBC","d":31.8,"u":113.6,"v":41.6},{"s":"HSD+DBBC","d":32.3,"u":116,"v":43.4},{"s":"HSD+DBBC","d":32.8,"u":111.4,"v":40},{"s":"HSD+DBBC","d":33.3,"u":114.8,"v":42.6},{"s":"HSD+DBBC","d":33.8,"u":117,"v":44},{"s":"HSD+DBBC","d":34.3,"u":111,"v":39.6},{"s":"HSD+DBBC","d":34.8,"u":113.8,"v":41.8},{"s":"HSD+DBBC","d":35.3,"u":116.4,"v":43.4},{"s":"HSD+DBBC","d":35.8,"u":110.4,"v":39.2},{"s":"HSD+DBBC","d":36.3,"u":112.6,"v":40.8},{"s":"HSD+DBBC","d":36.8,"u":115,"v":42.6},{"s":"HSD+DBBC","d":37.3,"u":111.6,"v":40.2},{"s":"HSD+DBBC","d":37.8,"u":109.6,"v":38.6},{"s":"HSD+DBBC","d":38.3,"u":114,"v":41.6},{"s":"HSD+DBBC","d":38.8,"u":111.2,"v":39.6},{"s":"HSD+DBBC","d":39.3,"u":110.2,"v":38.4},{"s":"HSD+DBBC","d":39.8,"u":113,"v":40.8},{"s":"HSD+DBBC","d":40.3,"u":109.8,"v":38.2},{"s":"HSD+DBBC","d":40.8,"u":110.6,"v":38.8},{"s":"HSD+DBBC","d":41.3,"u":106.6,"v":35.6},{"s":"HSD+DBBC","d":41.8,"u":109.4,"v":37.6},{"s":"HSD+DBBC","d":42.3,"u":107.8,"v":36.4},{"s":"HSD+DBBC","d":42.8,"u":106,"v":35},{"s":"HSD+DBBC","d":43.3,"u":104.2,"v":33},{"s":"HSD+DBBC","d":43.8,"u":105.8,"v":34.4},{"s":"HSD+DBBC","d":44.3,"u":104,"v":33},{"s":"HSD+DBBC","d":44.6,"u":104.6,"v":33.4},{"s":"HSD+DBBC","d":6.5,"u":137,"v":64.8},{"s":"HSD+DBBC","d":7.1,"u":136,"v":63.4},{"s":"HSD+DBBC","d":7.5,"u":134.2,"v":61.6},{"s":"HSD+DBBC","d":5.8,"u":139.2,"v":67.2},{"s":"HSD+DBBC","d":5.1,"u":137.6,"v":65.6},{"s":"HSD+DBBC","d":4.6,"u":140,"v":68.8},{"s":"HSD+DBBC","d":4.2,"u":139,"v":69.4},{"s":"HSD+DBBC","d":3.9,"u":139.6,"v":68.6},{"s":"HSD+DBBC","d":3.4,"u":141,"v":70},{"s":"HSD+DBBC","d":3.55,"u":142.6,"v":71.6},{"s":"HSD+DBBC","d":3,"u":143,"v":72.6},{"s":"HSD+DBBC","d":2.78,"u":143.6,"v":73},{"s":"HSD+DBBC","d":2.2,"u":144.8,"v":74.2},
{"s":"HSD+DBBC","d":8.1,"u":132.8,"v":60.8},{"s":"HSD+DBBC","d":8.6,"u":133.8,"v":61.2},{"s":"HSD+DBBC","d":9.2,"u":130.8,"v":59},{"s":"HSD+DBBC","d":9.6,"u":132.6,"v":60.6},{"s":"HSD+DBBC","d":10,"u":130,"v":57.8},{"s":"HSD+DBBC","d":10.3,"u":131.6,"v":59.2},{"s":"HSD+DBBC","d":10.7,"u":129,"v":56.6},{"s":"HSD+DBBC","d":11.1,"u":130.4,"v":58},{"s":"HSD+DBBC","d":11.4,"u":132,"v":59.2},{"s":"HSD+DBBC","d":11.8,"u":128.4,"v":55.8},{"s":"HSD+DBBC","d":12.1,"u":129.4,"v":56.8},{"s":"HSD+DBBC","d":12.4,"u":126.4,"v":54.2},{"s":"HSD+DBBC","d":12.9,"u":129.8,"v":57},{"s":"HSD+DBBC","d":13.1,"u":128,"v":55},{"s":"HSD+DBBC","d":13.6,"u":127,"v":54.4},{"s":"HSD+DBBC","d":13.9,"u":129.6,"v":56.2},{"s":"HSD+DBBC","d":14.3,"u":126.6,"v":53.6},{"s":"HSD+DBBC","d":14.6,"u":128.8,"v":55.6},{"s":"HSD+DBBC","d":15.1,"u":127.6,"v":54.6},{"s":"HSD+DBBC","d":15.4,"u":125.2,"v":52.4},{"s":"HSD+DBBC","d":15.9,"u":126.8,"v":53.4},{"s":"HSD+DBBC","d":16.1,"u":122.8,"v":50.2},{"s":"HSD+DBBC","d":16.6,"u":124.8,"v":52},{"s":"HSD+DBBC","d":16.9,"u":127.4,"v":53.8},{"s":"HSD+DBBC","d":17.4,"u":124.6,"v":51.6},{"s":"HSD+DBBC","d":17.9,"u":122.6,"v":49.6},{"s":"HSD+DBBC","d":18.1,"u":125.8,"v":52.4},{"s":"HSD+DBBC","d":18.7,"u":123,"v":50},{"s":"HSD+DBBC","d":19.2,"u":122.4,"v":49.4},{"s":"HSD+DBBC","d":19.4,"u":124,"v":50.8},{"s":"HSD+DBBC","d":19.9,"u":121,"v":48.2},{"s":"HSD+DBBC","d":20.3,"u":124,"v":50.6},{"s":"HSD+DBBC","d":20.7,"u":121.8,"v":48.8},{"s":"HSD+DBBC","d":21.2,"u":123,"v":49.6},{"s":"HSD+DBBC","d":21.6,"u":120.4,"v":47.4},{"s":"HSD+DBBC","d":22.1,"u":119.6,"v":46.8},{"s":"HSD+DBBC","d":22.6,"u":121.4,"v":48.2},{"s":"HSD+DBBC","d":23.2,"u":118.4,"v":46},{"s":"HSD+DBBC","d":23.6,"u":120.8,"v":47.6},{"s":"HSD+DBBC","d":24.1,"u":117.4,"v":45.2},{"s":"HSD+DBBC","d":24.6,"u":119.4,"v":46.4},{"s":"HSD+DBBC","d":25.1,"u":118.2,"v":45.8},{"s":"HSD+DBBC","d":25.6,"u":120.4,"v":47},{"s":"HSD+DBBC","d":26.1,"u":118.6,"v":45.6},{"s":"HSD+DBBC","d":26.6,"u":115.8,"v":43.8},{"s":"HSD+DBBC","d":27.1,"u":119,"v":45.8},{"s":"HSD+DBBC","d":27.6,"u":116.6,"v":44.2},{"s":"HSD+DBBC","d":28.1,"u":117.8,"v":45},{"s":"HSD+DBBC","d":28.6,"u":113.8,"v":42.2},{"s":"HSD+DBBC","d":29.1,"u":115.6,"v":43.4},{"s":"HSD+DBBC","d":29.6,"u":118,"v":44.8},{"s":"HSD+DBBC","d":30.1,"u":115.4,"v":43},{"s":"HSD+DBBC","d":30.6,"u":112.8,"v":41.4},{"s":"HSD+DBBC","d":31.1,"u":116.8,"v":44},{"s":"HSD+DBBC","d":31.6,"u":114.2,"v":42.2},{"s":"HSD+DBBC","d":32.1,"u":117,"v":44.2},{"s":"HSD+DBBC","d":32.6,"u":112.8,"v":41.2},{"s":"HSD+DBBC","d":33.1,"u":115.2,"v":42.8},{"s":"HSD+DBBC","d":33.6,"u":113.4,"v":41.4},{"s":"HSD+DBBC","d":34.1,"u":116,"v":43.4},{"s":"HSD+DBBC","d":34.6,"u":112.4,"v":40.8},{"s":"HSD+DBBC","d":35.1,"u":114.4,"v":42.2},{"s":"HSD+DBBC","d":35.6,"u":115.2,"v":42.6},{"s":"HSD+DBBC","d":36.1,"u":112,"v":40.4},{"s":"HSD+DBBC","d":36.6,"u":113.6,"v":41.4},{"s":"HSD+DBBC","d":37.1,"u":114.6,"v":42},{"s":"HSD+DBBC","d":37.6,"u":111,"v":39.6},{"s":"HSD+DBBC","d":38.1,"u":113.4,"v":41},{"s":"HSD+DBBC","d":38.6,"u":112,"v":40.2},{"s":"HSD+DBBC","d":39.1,"u":111.2,"v":39.4},{"s":"HSD+DBBC","d":39.6,"u":110.2,"v":38.6},{"s":"HSD+DBBC","d":40.1,"u":112.4,"v":40.2},{"s":"HSD+DBBC","d":40.6,"u":109.6,"v":38},{"s":"HSD+DBBC","d":41.1,"u":109,"v":37.4},{"s":"HSD+DBBC","d":41.6,"u":110.4,"v":38.6},{"s":"HSD+DBBC","d":42.1,"u":108.2,"v":36.8},{"s":"HSD+DBBC","d":42.6,"u":108.8,"v":37.2},{"s":"HSD+DBBC","d":43.1,"u":107.6,"v":36},{"s":"HSD+DBBC","d":43.6,"u":106,"v":34.6},{"s":"HSD+DBBC","d":44.1,"u":106.4,"v":35},{"s":"HSD+DBBC","d":44.4,"u":103.8,"v":32.8},{"s":"HSD+DBBC","d":6.1,"u":136,"v":63.6},{"s":"HSD+DBBC","d":6.7,"u":134.6,"v":62.4},{"s":"HSD+DBBC","d":7.4,"u":136.4,"v":63.8},{"s":"HSD+DBBC","d":7.7,"u":133,"v":60.6},{"s":"HSD+DBBC","d":5.3,"u":138,"v":66},{"s":"HSD+DBBC","d":4.9,"u":138.4,"v":67.2},{"s":"HSD+DBBC","d":4.4,"u":139.8,"v":68.4},{"s":"HSD+DBBC","d":6,"u":138,"v":65.8},{"s":"HSD+DBBC","d":8.5,"u":136,"v":63.2},{"s":"HSD+DBBC","d":9,"u":135.2,"v":62.6},{"s":"HSD+DBBC","d":9.6,"u":134.6,"v":61.8},{"s":"HSD+DBBC","d":10.5,"u":133.8,"v":60.8},{"s":"HSD+DBBC","d":11.3,"u":133,"v":60.2},{"s":"HSD+DBBC","d":12.2,"u":132,"v":59},{"s":"HSD+DBBC","d":13.2,"u":131,"v":58},{"s":"HSD+DBBC","d":14.2,"u":130.2,"v":57.2},{"s":"HSD+DBBC","d":15.4,"u":129.2,"v":56},{"s":"HSD+DBBC","d":16.6,"u":128.2,"v":55},{"s":"HSD+DBBC","d":18,"u":127,"v":53.8},{"s":"HSD+DBBC","d":19.4,"u":126,"v":52.8},{"s":"HSD+DBBC","d":21,"u":124.4,"v":51.4},{"s":"HSD+DBBC","d":22.6,"u":123.2,"v":50.2},{"s":"HSD+DBBC","d":24.2,"u":122,"v":48.8},{"s":"HSD+DBBC","d":26,"u":121,"v":47.6},{"s":"HSD+DBBC","d":27.8,"u":119.8,"v":46.4},{"s":"HSD+DBBC","d":29.8,"u":118.6,"v":45.2}
],
"diff":[
{"d":0.7,"y":67.5},{"d":0.74,"y":67.9},{"d":0.82,"y":67.5},{"d":0.89,"y":68.6},{"d":1.24,"y":67.8},{"d":1.24,"y":67.95},{"d":1.75,"y":68.2},{"d":1.96,"y":68.2},{"d":1.99,"y":68.9},{"d":2.0,"y":69.8},{"d":2.12,"y":70.3},{"d":2.13,"y":69.5},{"d":2.43,"y":68.8},{"d":2.5,"y":68.8},{"d":2.56,"y":68.8},{"d":2.62,"y":68.8},{"d":2.8,"y":69.3},{"d":2.82,"y":69.45},{"d":2.78,"y":69.2},{"d":2.98,"y":70.3},{"d":3.1,"y":70.0},{"d":3.13,"y":69.6},{"d":3.19,"y":69.3},{"d":3.17,"y":71.1},{"d":3.24,"y":71.8},{"d":3.3,"y":69.5},{"d":3.35,"y":69.7},{"d":3.53,"y":70.3},{"d":3.53,"y":69.9},{"d":3.6,"y":69.4},{"d":3.63,"y":72.0},{"d":3.72,"y":72.6},{"d":3.75,"y":70.4},{"d":3.86,"y":69.7},{"d":3.91,"y":70.1},{"d":4.0,"y":70.1},{"d":4.08,"y":71.2},{"d":4.2,"y":70.6},{"d":4.38,"y":71.1},{"d":4.5,"y":71.4},{"d":4.57,"y":71.8},{"d":4.63,"y":73.1},{"d":4.67,"y":72.8},{"d":4.76,"y":71.0},{"d":4.9,"y":71.4},{"d":5.04,"y":72.8},{"d":5.11,"y":70.9},{"d":5.25,"y":71.5},{"d":5.36,"y":72.4},{"d":5.47,"y":72.1},{"d":5.55,"y":71.2},{"d":5.7,"y":73.2},{"d":5.79,"y":71.6},{"d":5.87,"y":72.1},{"d":6.0,"y":73.4},{"d":6.13,"y":72.3},{"d":6.2,"y":72.9},{"d":6.35,"y":71.7},{"d":6.46,"y":73.5},{"d":6.6,"y":71.4},{"d":6.75,"y":73.2},{"d":6.9,"y":72.5},{"d":7.04,"y":73.6},{"d":7.15,"y":72.1},{"d":7.3,"y":73.0},{"d":7.45,"y":73.7},{"d":7.67,"y":73.3},{"d":7.78,"y":72.4},{"d":8.0,"y":73.8},{"d":8.1,"y":72.9},{"d":8.34,"y":73.4},{"d":8.5,"y":72.3},{"d":8.7,"y":73.7},{"d":8.9,"y":73.0},{"d":8.94,"y":71.1},{"d":9.2,"y":74.1},{"d":9.46,"y":73.3},{"d":9.6,"y":71.9},{"d":9.78,"y":73.9},{"d":10.0,"y":72.9},{"d":10.3,"y":73.6},{"d":10.4,"y":71.5},{"d":10.6,"y":73.9},{"d":10.8,"y":72.4},{"d":11.0,"y":73.3},{"d":11.5,"y":75.1},{"d":11.4,"y":70.9},{"d":11.5,"y":70.2},{"d":11.7,"y":74.2},{"d":11.8,"y":72.9},{"d":12.2,"y":74.6},{"d":12.2,"y":72.1},{"d":12.5,"y":71.1},{"d":12.9,"y":75.6},{"d":13.0,"y":73.3},{"d":13.2,"y":74.9},{"d":13.4,"y":71.5},{"d":13.6,"y":73.9},{"d":13.9,"y":75.4},{"d":14.0,"y":72.7},{"d":14.2,"y":76.0},{"d":14.4,"y":72.1},{"d":14.6,"y":74.7},{"d":14.8,"y":71.0},{"d":15.0,"y":73.7},{"d":15.2,"y":75.8},{"d":15.4,"y":72.0},{"d":15.7,"y":76.0},{"d":15.9,"y":73.2},{"d":16.1,"y":74.7},{"d":16.3,"y":72.5},{"d":16.5,"y":75.5},{"d":16.8,"y":73.9},{"d":16.9,"y":76.5},{"d":16.8,"y":69.4},{"d":17.1,"y":71.6},{"d":17.4,"y":75.2},{"d":17.6,"y":73.0},{"d":17.9,"y":76.0},{"d":18.1,"y":70.8},{"d":18.3,"y":69.6},{"d":18.5,"y":74.3},{"d":18.8,"y":72.5},{"d":19.0,"y":75.5},{"d":19.3,"y":71.6},{"d":19.6,"y":73.6},{"d":19.7,"y":70.2},{"d":20.0,"y":76.3},{"d":20.3,"y":76.5},{"d":20.4,"y":74.7},{"d":20.7,"y":72.4},{"d":21.0,"y":75.7},{"d":21.3,"y":73.8},{"d":21.4,"y":70.2},{"d":21.8,"y":71.4},{"d":22.0,"y":75.2},{"d":22.4,"y":73.0},{"d":22.8,"y":76.0},{"d":23.2,"y":72.0},{"d":23.5,"y":74.5},{"d":23.8,"y":71.0},{"d":24.2,"y":75.3},{"d":24.5,"y":73.4},{"d":24.8,"y":75.9},{"d":25.2,"y":72.4},{"d":25.5,"y":69.9},{"d":25.8,"y":74.7},{"d":26.3,"y":71.5},{"d":26.6,"y":73.9},{"d":26.9,"y":69.9},{"d":27.2,"y":72.7},{"d":27.8,"y":74.9},{"d":28.2,"y":70.6},{"d":28.6,"y":73.4},{"d":28.9,"y":69.8},{"d":29.0,"y":75.5},{"d":29.4,"y":72.1},{"d":29.7,"y":69.7},{"d":29.8,"y":74.4},{"d":30.2,"y":73.2},{"d":30.7,"y":69.7},{"d":30.8,"y":69.9},{"d":31.1,"y":75.8},{"d":31.4,"y":76.3},{"d":31.5,"y":74.2},{"d":31.9,"y":72.1},{"d":32.4,"y":75.2},{"d":32.7,"y":71.1},{"d":33.2,"y":73.4},{"d":33.6,"y":75.5},{"d":33.9,"y":72.4},{"d":34.4,"y":74.5},{"d":34.8,"y":71.6},{"d":35.4,"y":75.0},{"d":35.8,"y":73.0},{"d":36.3,"y":73.9},{"d":36.9,"y":72.1},{"d":37.4,"y":74.7},{"d":37.7,"y":71.1},{"d":38.2,"y":73.4},{"d":38.4,"y":70.4},{"d":39.0,"y":72.8},{"d":39.5,"y":74.6},{"d":40.0,"y":73.7},{"d":40.6,"y":72.9},{"d":40.6,"y":72.1},{"d":41.2,"y":71.6},{"d":41.5,"y":73.2},{"d":42.2,"y":70.7},{"d":42.6,"y":69.9},{"d":42.9,"y":69.5},{"d":43.1,"y":70.3},{"d":43.4,"y":71.0},{"d":43.8,"y":72.3},
{"d":10.2,"y":72.2},{"d":10.5,"y":74.2},{"d":10.9,"y":71.8},{"d":11.2,"y":73.6},{"d":11.6,"y":72.4},{"d":11.9,"y":74.0},{"d":12.3,"y":73.2},{"d":12.7,"y":71.9},{"d":12.8,"y":74.6},{"d":13.3,"y":72.6},{"d":13.7,"y":74.2},{"d":14.1,"y":71.8},{"d":14.3,"y":73.6},{"d":14.7,"y":75.2},{"d":15.1,"y":72.4},{"d":15.3,"y":74.4},{"d":15.6,"y":71.5},{"d":15.9,"y":75.0},{"d":16.2,"y":73.6},{"d":16.4,"y":72.0},{"d":16.7,"y":74.8},{"d":17.0,"y":73.2},{"d":17.3,"y":71.2},{"d":17.6,"y":74.2},{"d":17.8,"y":72.4},{"d":18.2,"y":75.4},{"d":18.4,"y":73.2},{"d":18.7,"y":71.4},{"d":19.0,"y":74.0},{"d":19.2,"y":72.8},{"d":19.5,"y":75.2},{"d":19.8,"y":71.9},{"d":20.1,"y":73.8},{"d":20.5,"y":72.6},{"d":20.8,"y":74.6},{"d":21.1,"y":71.6},{"d":21.5,"y":73.4},{"d":21.9,"y":74.8},{"d":22.2,"y":72.2},{"d":22.6,"y":73.8},{"d":23.0,"y":71.4},{"d":23.3,"y":75.0},{"d":23.7,"y":72.8},{"d":24.0,"y":74.0},{"d":24.4,"y":71.8},{"d":24.7,"y":73.2},{"d":25.0,"y":74.8},{"d":25.4,"y":72.0},{"d":25.7,"y":73.6},{"d":26.1,"y":71.2},{"d":26.5,"y":74.4},{"d":26.8,"y":72.6},{"d":27.2,"y":73.8},{"d":27.6,"y":71.6},{"d":28.0,"y":74.2},{"d":28.3,"y":72.2},{"d":28.7,"y":75.2},{"d":29.1,"y":73.0},{"d":29.5,"y":71.4},{"d":29.9,"y":74.8},{"d":30.3,"y":72.6},{"d":30.6,"y":75.6},{"d":31.0,"y":73.4},{"d":31.3,"y":71.8},{"d":31.7,"y":74.6},{"d":32.1,"y":72.8},{"d":32.5,"y":75.8},{"d":32.9,"y":73.8},{"d":33.3,"y":72.0},{"d":33.7,"y":74.8},{"d":34.1,"y":73.2},{"d":34.5,"y":75.6},{"d":34.9,"y":72.6},{"d":35.3,"y":74.2},{"d":35.7,"y":71.6},{"d":36.1,"y":75.0},{"d":36.5,"y":73.4},{"d":37.0,"y":74.4},{"d":37.5,"y":72.6},{"d":38.0,"y":74.0},{"d":38.6,"y":72.2},{"d":39.2,"y":73.6},{"d":39.8,"y":71.8},{"d":40.3,"y":74.2},{"d":41.0,"y":72.4},{"d":35.0,"y":70.6},{"d":33.0,"y":70.3},{"d":31.8,"y":70.8},{"d":27.6,"y":70.9},{"d":25.0,"y":70.6},{"d":22.5,"y":70.9},{"d":19.0,"y":70.7},{"d":16.0,"y":70.4},{"d":14.5,"y":70.9},{"d":13.8,"y":71.2},
{"d":12.0,"y":73.6},{"d":12.5,"y":72.8},{"d":13.0,"y":74.0},{"d":13.5,"y":73.0},{"d":14.0,"y":74.6},{"d":14.8,"y":73.0},{"d":15.5,"y":73.8},{"d":16.0,"y":72.6},{"d":16.8,"y":72.4},{"d":17.5,"y":75.6},{"d":18.0,"y":73.8},{"d":18.5,"y":72.2},{"d":19.2,"y":74.6},{"d":19.8,"y":73.2},{"d":20.5,"y":75.6},{"d":21.0,"y":72.9},{"d":21.8,"y":75.8},{"d":22.4,"y":74.2},{"d":23.0,"y":73.0},{"d":23.8,"y":75.6},{"d":24.3,"y":72.4},{"d":25.0,"y":73.8},{"d":25.8,"y":72.8},{"d":26.4,"y":75.2},{"d":27.0,"y":73.2},{"d":27.8,"y":72.4},{"d":28.5,"y":74.0},{"d":29.2,"y":72.8},{"d":30.0,"y":73.8},{"d":30.8,"y":74.8},{"d":31.5,"y":73.0},{"d":32.3,"y":74.2},{"d":33.0,"y":73.2},{"d":33.8,"y":75.8},{"d":34.6,"y":74.0},{"d":35.4,"y":73.0},{"d":36.2,"y":72.4},{"d":37.0,"y":73.6},{"d":37.8,"y":75.0},{"d":38.6,"y":74.4},{"d":39.5,"y":72.8},{"d":26.0,"y":74.2},{"d":24.0,"y":75.0},{"d":20.0,"y":74.8},{"d":28.0,"y":75.4},{"d":30.5,"y":73.0},{"d":32.8,"y":72.4},{"d":34.0,"y":72.6},{"d":36.8,"y":72.0},
{"d":9.0,"y":72.8},{"d":9.4,"y":73.6},{"d":9.9,"y":72.4},{"d":10.1,"y":74.4},{"d":10.7,"y":73.0},{"d":11.1,"y":72.0},{"d":11.3,"y":74.8},{"d":11.8,"y":73.6},{"d":12.1,"y":71.8},{"d":12.4,"y":75.2},{"d":12.6,"y":73.8},{"d":13.1,"y":72.2},{"d":13.4,"y":75.0},{"d":13.7,"y":72.8},{"d":14.1,"y":73.4},{"d":14.4,"y":75.6},{"d":14.6,"y":71.4},{"d":14.9,"y":74.2},{"d":15.2,"y":72.8},{"d":15.6,"y":75.4},{"d":15.8,"y":74.0},{"d":16.1,"y":71.8},{"d":16.4,"y":73.2},{"d":16.6,"y":76.0},{"d":16.9,"y":72.8},{"d":17.2,"y":74.4},{"d":17.5,"y":72.2},{"d":17.7,"y":74.8},{"d":18.0,"y":71.6},{"d":18.3,"y":73.6},{"d":18.6,"y":75.8},{"d":18.9,"y":73.2},{"d":19.1,"y":71.2},{"d":19.4,"y":74.4},{"d":19.7,"y":72.6},{"d":20.0,"y":73.4},{"d":20.2,"y":71.2},{"d":20.6,"y":75.2},{"d":20.9,"y":73.6},{"d":21.2,"y":72.0},{"d":21.6,"y":74.2},{"d":21.9,"y":72.6},{"d":22.3,"y":75.4},{"d":22.7,"y":71.8},{"d":23.1,"y":74.0},{"d":23.4,"y":72.4},{"d":23.9,"y":73.2},{"d":24.2,"y":71.6},{"d":24.6,"y":74.2},{"d":24.9,"y":72.6},{"d":25.3,"y":75.2},{"d":25.6,"y":71.4},{"d":26.0,"y":73.0},{"d":26.3,"y":74.8},{"d":26.7,"y":71.8},{"d":27.0,"y":74.2},{"d":27.4,"y":72.0},{"d":27.9,"y":73.4},{"d":28.2,"y":71.8},{"d":28.6,"y":74.6},{"d":29.0,"y":72.6},{"d":29.3,"y":74.0},{"d":29.6,"y":71.0},{"d":30.0,"y":75.0},{"d":30.4,"y":72.0},{"d":30.8,"y":73.6},{"d":31.2,"y":72.4},{"d":31.6,"y":75.4},{"d":32.0,"y":73.6},{"d":32.4,"y":71.6},{"d":32.8,"y":74.4},{"d":33.1,"y":72.6},{"d":33.5,"y":74.0},{"d":33.9,"y":73.6},{"d":34.2,"y":71.8},{"d":34.7,"y":73.4},{"d":35.1,"y":75.2},{"d":35.6,"y":72.8},{"d":36.0,"y":74.6},{"d":36.4,"y":71.8},{"d":36.9,"y":73.8},{"d":37.3,"y":72.8},{"d":37.8,"y":73.2},{"d":38.3,"y":74.6},{"d":38.8,"y":72.8},{"d":39.4,"y":74.2},{"d":39.9,"y":73.0},{"d":40.4,"y":72.6},{"d":40.9,"y":73.8},{"d":41.4,"y":72.0},{"d":42.0,"y":71.6},{"d":42.4,"y":72.6},{"d":42.8,"y":71.4},{"d":43.2,"y":70.0},{"d":43.6,"y":69.8},{"d":43.0,"y":69.6},{"d":41.8,"y":70.8},{"d":40.0,"y":70.2},{"d":36.0,"y":70.4},{"d":34.2,"y":70.9},{"d":30.0,"y":70.4},{"d":26.5,"y":70.2},{"d":24.0,"y":70.0},{"d":20.5,"y":70.6},{"d":17.5,"y":70.9},{"d":28.0,"y":69.9},{"d":29.0,"y":69.75},{"d":27.0,"y":70.0},
{"d":4.3,"y":70.4},{"d":4.45,"y":69.9},{"d":4.8,"y":70.4},{"d":5.0,"y":70.7},{"d":5.3,"y":70.4},{"d":5.6,"y":71.0},{"d":5.9,"y":71.0},{"d":6.1,"y":71.6},{"d":6.4,"y":72.6},{"d":6.7,"y":72.0},{"d":7.0,"y":71.6},{"d":7.2,"y":73.0},{"d":7.5,"y":72.6},{"d":7.9,"y":72.0},{"d":8.2,"y":73.2},{"d":8.6,"y":72.9},{"d":3.95,"y":69.75},{"d":3.4,"y":69.3},{"d":3.0,"y":69.5},{"d":3.5,"y":70.5},
{"d":12.15,"y":73.0},{"d":12.45,"y":74.2},{"d":12.75,"y":72.4},{"d":13.05,"y":73.6},{"d":13.35,"y":74.6},{"d":13.65,"y":71.6},{"d":13.95,"y":73.2},{"d":14.25,"y":74.8},{"d":14.55,"y":72.6},{"d":14.85,"y":73.8},{"d":15.15,"y":75.0},{"d":15.45,"y":73.0},{"d":15.75,"y":74.4},{"d":16.05,"y":71.2},{"d":16.35,"y":75.2},{"d":16.65,"y":73.4},{"d":16.95,"y":72.0},{"d":17.25,"y":75.8},{"d":17.55,"y":73.6},{"d":17.85,"y":72.8},{"d":18.15,"y":74.6},{"d":18.45,"y":76.2},{"d":18.75,"y":72.0},{"d":19.05,"y":73.0},{"d":19.35,"y":75.8},{"d":19.65,"y":74.2},{"d":19.95,"y":72.2},{"d":20.25,"y":75.0},{"d":20.55,"y":73.8},{"d":20.85,"y":71.8},{"d":21.15,"y":74.4},{"d":21.45,"y":76.0},{"d":21.75,"y":72.8},{"d":22.05,"y":73.6},{"d":22.35,"y":71.4},{"d":22.65,"y":74.6},{"d":22.95,"y":75.6},{"d":23.25,"y":73.2},{"d":23.55,"y":71.8},{"d":23.85,"y":74.2},{"d":24.15,"y":73.0},{"d":24.45,"y":75.6},{"d":24.75,"y":72.0},{"d":25.05,"y":74.0},{"d":25.35,"y":73.0},{"d":25.65,"y":75.0},{"d":25.95,"y":71.6},{"d":26.25,"y":73.2},{"d":26.55,"y":75.4},{"d":26.85,"y":73.6},{"d":27.15,"y":71.2},{"d":27.45,"y":74.6},{"d":27.75,"y":73.0},{"d":28.05,"y":72.0},{"d":28.35,"y":74.8},{"d":28.65,"y":72.6},{"d":28.95,"y":73.8},{"d":29.25,"y":71.2},{"d":29.55,"y":75.0},{"d":29.85,"y":72.4},{"d":30.15,"y":74.0},{"d":30.45,"y":75.4},{"d":30.75,"y":72.2},{"d":31.05,"y":74.4},{"d":31.35,"y":73.0},{"d":31.65,"y":76.0},{"d":31.95,"y":72.8},{"d":32.25,"y":74.8},{"d":32.55,"y":73.2},{"d":32.85,"y":75.4},{"d":33.15,"y":71.8},{"d":33.45,"y":74.2},{"d":33.75,"y":72.8},{"d":34.05,"y":75.2},{"d":34.35,"y":73.6},{"d":34.65,"y":72.2},{"d":34.95,"y":74.8},{"d":35.25,"y":73.4},{"d":35.55,"y":71.8},{"d":35.85,"y":74.4},{"d":36.15,"y":72.6},{"d":36.45,"y":74.8},{"d":36.75,"y":73.0},{"d":37.05,"y":75.4},{"d":37.35,"y":72.4},{"d":37.65,"y":74.2},{"d":37.95,"y":72.0},{"d":38.25,"y":73.8},{"d":38.55,"y":72.6},{"d":38.85,"y":74.8},{"d":39.15,"y":71.6},{"d":39.45,"y":73.4},{"d":39.75,"y":74.4},{"d":40.05,"y":72.2},{"d":40.35,"y":73.4},{"d":40.65,"y":71.4},{"d":40.95,"y":72.8},{"d":41.25,"y":74.2},{"d":41.55,"y":71.0},{"d":41.85,"y":72.4}
]
},
"resolve":{"scale":{"color":"independent","shape":"independent"},"legend":{"color":"independent","shape":"independent"}},
"spacing":28,
"vconcat":[
{
"resolve":{"scale":{"color":"independent","shape":"independent"},"legend":{"color":"independent","shape":"independent"}},
"spacing":49,
"vconcat":[
{
"width":625,"height":419,
"title":{"text":"Simulated corrected data - unfiltered","offset":-12},
"data":{"name":"sel"},
"resolve":{"axis":{"x":"independent","y":"independent"}},
"layer":[
{"transform":[{"filter":"datum.d === 0.7"}],"mark":{"type":"point","opacity":0},
"encoding":{
"x":{"field":"d","type":"quantitative","scale":{"type":"log","domain":[0.5,100],"nice":false},"axis":{"orient":"bottom","values":[0.6,0.7,0.8,0.9,1,2,3,4,5,6,7,8,9,10,20,30,40,50,60,70,80,90],"labels":false,"ticks":false,"grid":true,"title":null,"gridColor":{"condition":{"test":"datum.value===1||datum.value===10","value":"#DCDCDC"},"value":"#BEBEBE"},"gridDash":{"condition":{"test":"datum.value===1||datum.value===10","value":[]},"value":[1,3]}}},
"y":{"field":"u","type":"quantitative","scale":{"domain":[100,180],"nice":false,"zero":false},"axis":{"orient":"left","values":[110,120,130,140,150,160,170],"labels":false,"ticks":false,"grid":true,"title":null}}}},
{"transform":[{"filter":"datum.d === 0.7"}],"mark":{"type":"point","opacity":0},
"encoding":{
"x":{"field":"d","type":"quantitative","scale":{"type":"log","domain":[0.5,100],"nice":false},"axis":{"orient":"bottom","values":[0.6,0.7,0.8,0.9,1,2,3,4,5,6,7,8,9,10,20,30,40,50,60,70,80,90],"labels":false,"ticks":true,"grid":false,"title":null,"tickSize":{"condition":{"test":"datum.value===1||datum.value===10","value":-7},"value":-4}}},
"y":{"field":"u","type":"quantitative","scale":{"domain":[100,180],"nice":false,"zero":false},"axis":{"orient":"left","values":[110,120,130,140,150,160,170],"labels":false,"ticks":true,"tickSize":-7,"grid":false,"title":null}}}},
{"transform":[{"filter":"datum.d === 0.7"}],"mark":{"type":"point","opacity":0},
"encoding":{
"x":{"field":"d","type":"quantitative","scale":{"type":"log","domain":[0.5,100],"nice":false},"axis":{"orient":"top","values":[0.6,0.7,0.8,0.9,1,2,3,4,5,6,7,8,9,10,20,30,40,50,60,70,80,90],"labels":false,"ticks":true,"grid":false,"title":null,"tickSize":{"condition":{"test":"datum.value===1||datum.value===10","value":-7},"value":-4}}},
"y":{"field":"u","type":"quantitative","scale":{"domain":[100,180],"nice":false,"zero":false},"axis":{"orient":"right","values":[110,120,130,140,150,160,170],"labels":false,"ticks":true,"tickSize":-7,"grid":false,"title":null}}}},
{"mark":{"type":"point","filled":false,"size":156,"strokeWidth":1.35,"opacity":1},
"encoding":{
"x":{"field":"d","type":"quantitative","scale":{"type":"log","domain":[0.5,100],"nice":false},"axis":{"orient":"bottom","values":[1,10,100],"ticks":false,"grid":false,"labelPadding":14,"title":"Distance [km]","titlePadding":9,"titleFontSize":21}},
"y":{"field":"u","type":"quantitative","scale":{"domain":[100,180],"nice":false,"zero":false},"axis":{"orient":"left","values":[100,110,120,130,140,150,160,170,180],"ticks":false,"grid":false,"labelPadding":9,"labelOffset":3,"title":"unweighted broadband SELss [dB re 1 μPa²s]","titlePadding":5,"titleFontSize":22}},
"color":{"field":"s","type":"nominal","scale":{"domain":["AdBm + DBBC","DBBC","HSD+DBBC"],"range":["#FF0000","#000000","#0000FF"]},"legend":null},
"shape":{"field":"s","type":"nominal","scale":{"domain":["AdBm + DBBC","DBBC","HSD+DBBC"],"range":["M0.88,0A0.88,0.88,0,1,1,-0.88,0A0.88,0.88,0,1,1,0.88,0Z","M-0.72,-0.72L0.72,0.72M-0.72,0.72L0.72,-0.72","M-1,0L1,0M0,-1L0,1"]},"legend":null}}}
]
},
{
"width":625,"height":419,
"title":{"text":"Simulated corrected data - vhf","offset":1},
"data":{"name":"sel"},
"resolve":{"axis":{"x":"independent","y":"independent"}},
"layer":[
{"transform":[{"filter":"datum.d === 0.7"}],"mark":{"type":"point","opacity":0},
"encoding":{
"x":{"field":"d","type":"quantitative","scale":{"type":"log","domain":[0.5,100],"nice":false},"axis":{"orient":"bottom","values":[0.6,0.7,0.8,0.9,1,2,3,4,5,6,7,8,9,10,20,30,40,50,60,70,80,90],"labels":false,"ticks":false,"grid":true,"title":null,"gridColor":{"condition":{"test":"datum.value===1||datum.value===10","value":"#DCDCDC"},"value":"#BEBEBE"},"gridDash":{"condition":{"test":"datum.value===1||datum.value===10","value":[]},"value":[1,3]}}},
"y":{"field":"v","type":"quantitative","scale":{"domain":[20,100],"nice":false,"zero":false},"axis":{"orient":"left","values":[30,40,50,60,70,80,90],"labels":false,"ticks":false,"grid":true,"title":null}}}},
{"transform":[{"filter":"datum.d === 0.7"}],"mark":{"type":"point","opacity":0},
"encoding":{
"x":{"field":"d","type":"quantitative","scale":{"type":"log","domain":[0.5,100],"nice":false},"axis":{"orient":"bottom","values":[0.6,0.7,0.8,0.9,1,2,3,4,5,6,7,8,9,10,20,30,40,50,60,70,80,90],"labels":false,"ticks":true,"grid":false,"title":null,"tickSize":{"condition":{"test":"datum.value===1||datum.value===10","value":-7},"value":-4}}},
"y":{"field":"v","type":"quantitative","scale":{"domain":[20,100],"nice":false,"zero":false},"axis":{"orient":"left","values":[30,40,50,60,70,80,90],"labels":false,"ticks":true,"tickSize":-7,"grid":false,"title":null}}}},
{"transform":[{"filter":"datum.d === 0.7"}],"mark":{"type":"point","opacity":0},
"encoding":{
"x":{"field":"d","type":"quantitative","scale":{"type":"log","domain":[0.5,100],"nice":false},"axis":{"orient":"top","values":[0.6,0.7,0.8,0.9,1,2,3,4,5,6,7,8,9,10,20,30,40,50,60,70,80,90],"labels":false,"ticks":true,"grid":false,"title":null,"tickSize":{"condition":{"test":"datum.value===1||datum.value===10","value":-7},"value":-4}}},
"y":{"field":"v","type":"quantitative","scale":{"domain":[20,100],"nice":false,"zero":false},"axis":{"orient":"right","values":[30,40,50,60,70,80,90],"labels":false,"ticks":true,"tickSize":-7,"grid":false,"title":null}}}},
{"mark":{"type":"point","filled":false,"size":156,"strokeWidth":1.35,"opacity":1},
"encoding":{
"x":{"field":"d","type":"quantitative","scale":{"type":"log","domain":[0.5,100],"nice":false},"axis":{"orient":"bottom","values":[1,10,100],"ticks":false,"grid":false,"labelPadding":14,"title":"Distance [km]","titlePadding":9,"titleFontSize":21}},
"y":{"field":"v","type":"quantitative","scale":{"domain":[20,100],"nice":false,"zero":false},"axis":{"orient":"left","values":[20,30,40,50,60,70,80,90,100],"ticks":false,"grid":false,"labelPadding":9,"labelOffset":3,"title":"vhf broadband SELss [dB re 1 μPa²s]","titlePadding":9,"titleFontSize":22}},
"color":{"field":"s","type":"nominal","scale":{"domain":["AdBm + DBBC","DBBC","HSD+DBBC"],"range":["#FF0000","#000000","#0000FF"]},"legend":{"title":null,"orient":"top-right","offset":14}},
"shape":{"field":"s","type":"nominal","scale":{"domain":["AdBm + DBBC","DBBC","HSD+DBBC"],"range":["M0.88,0A0.88,0.88,0,1,1,-0.88,0A0.88,0.88,0,1,1,0.88,0Z","M-0.72,-0.72L0.72,0.72M-0.72,0.72L0.72,-0.72","M-1,0L1,0M0,-1L0,1"]},"legend":{"title":null,"orient":"top-right","offset":14}}}}
]
}
]
},
{
"width":625,"height":205,
"data":{"name":"diff"},
"resolve":{"axis":{"x":"independent","y":"independent"}},
"layer":[
{"transform":[{"filter":"datum.d === 0.7"}],"mark":{"type":"point","opacity":0},
"encoding":{
"x":{"field":"d","type":"quantitative","scale":{"type":"log","domain":[0.5,100],"nice":false},"axis":{"orient":"bottom","values":[0.6,0.7,0.8,0.9,1,2,3,4,5,6,7,8,9,10,20,30,40,50,60,70,80,90],"labels":false,"ticks":false,"grid":true,"title":null,"gridColor":{"condition":{"test":"datum.value===1||datum.value===10","value":"#DCDCDC"},"value":"#BEBEBE"},"gridDash":{"condition":{"test":"datum.value===1||datum.value===10","value":[]},"value":[1,3]}}},
"y":{"field":"y","type":"quantitative","scale":{"domain":[64,80],"nice":false,"zero":false},"axis":{"orient":"left","values":[66,68,70,72,74,76,78],"labels":false,"ticks":false,"grid":true,"title":null}}}},
{"transform":[{"filter":"datum.d === 0.7"}],"mark":{"type":"point","opacity":0},
"encoding":{
"x":{"field":"d","type":"quantitative","scale":{"type":"log","domain":[0.5,100],"nice":false},"axis":{"orient":"bottom","values":[0.6,0.7,0.8,0.9,1,2,3,4,5,6,7,8,9,10,20,30,40,50,60,70,80,90],"labels":false,"ticks":true,"grid":false,"title":null,"tickSize":{"condition":{"test":"datum.value===1||datum.value===10","value":-7},"value":-4}}},
"y":{"field":"y","type":"quantitative","scale":{"domain":[64,80],"nice":false,"zero":false},"axis":{"orient":"left","values":[66,68,70,72,74,76,78],"labels":false,"ticks":true,"tickSize":-7,"grid":false,"title":"\u00a0\u00a0\u00a0\u00a0\u00a0\u00a0\u00a0\u00a0\u00a0\u00a0SS\u00a0\u00a0\u00a0\u00a0\u00a0\u00a0\u00a0\u00a0\u00a0\u00a0\u00a0\u00a0\u00a0\u00a0\u00a0SS,VHF\u00a0\u00a0\u00a0\u00a0\u00a0\u00a0\u00a0\u00a0\u00a0\u00a0\u00a0","titleFontSize":13.5,"titlePadding":30,"titleY":91}}}},
{"transform":[{"filter":"datum.d === 0.7"}],"mark":{"type":"point","opacity":0},
"encoding":{
"x":{"field":"d","type":"quantitative","scale":{"type":"log","domain":[0.5,100],"nice":false},"axis":{"orient":"top","values":[0.6,0.7,0.8,0.9,1,2,3,4,5,6,7,8,9,10,20,30,40,50,60,70,80,90],"labels":false,"ticks":true,"grid":false,"title":null,"tickSize":{"condition":{"test":"datum.value===1||datum.value===10","value":-7},"value":-4}}},
"y":{"field":"y","type":"quantitative","scale":{"domain":[64,80],"nice":false,"zero":false},"axis":{"orient":"right","values":[66,68,70,72,74,76,78],"labels":false,"ticks":true,"tickSize":-7,"grid":false,"title":null}}}},
{"mark":{"type":"circle","color":"#0072BD","size":48,"opacity":1},
"encoding":{
"x":{"field":"d","type":"quantitative","scale":{"type":"log","domain":[0.5,100],"nice":false},"axis":{"orient":"bottom","values":[1,10,100],"ticks":false,"grid":false,"labelPadding":11,"title":"distance [km]","titlePadding":3,"titleFontSize":21}},
"y":{"field":"y","type":"quantitative","scale":{"domain":[64,80],"nice":false,"zero":false},"axis":{"orient":"left","values":[64,66,68,70,72,74,76,78,80],"ticks":false,"grid":false,"labelPadding":7,"labelOffset":3,"title":"SEL\u00a0\u00a0\u00a0\u00a0 - SEL\u00a0\u00a0\u00a0\u00a0\u00a0\u00a0\u00a0\u00a0\u00a0\u00a0 [dB]","titleFontSize":19,"titlePadding":12.8,"titleY":91}}}}
]
}
]
}
